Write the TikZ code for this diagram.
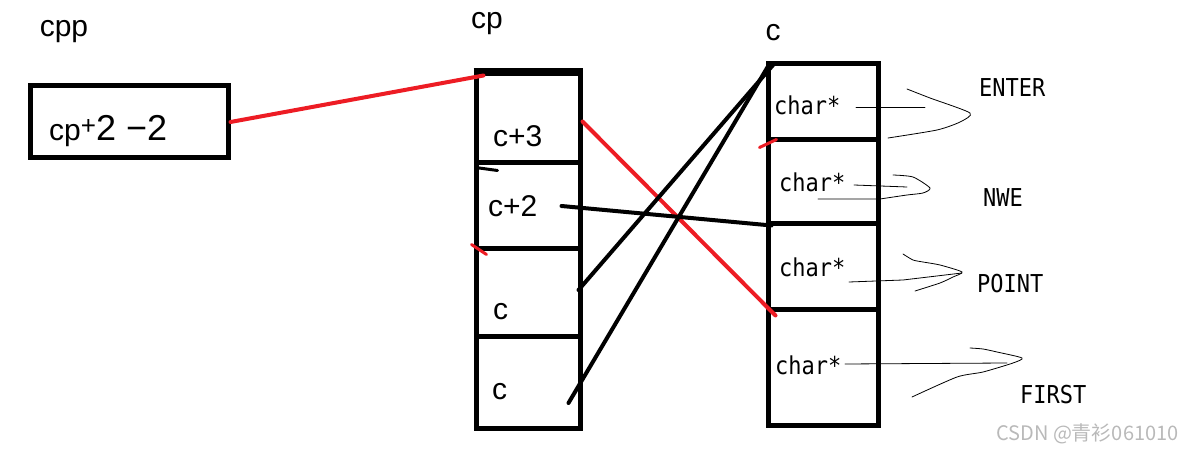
\documentclass[tikz,border=0pt]{standalone}
\usepackage{fontspec}
\setmainfont{Liberation Sans}
\newfontfamily\monofont{DejaVu Sans Mono}
\newfontfamily\cjkfont{Noto Sans CJK SC}
\usepackage{tikz}
\usepackage{xcolor}
\usepackage{graphicx}
\definecolor{penred}{RGB}{237,28,36}
\newcommand{\tall}[1]{\scalebox{1}[1.12]{#1}}

\begin{document}
\begin{tikzpicture}
  [x=1pt,y=-1pt,line cap=round,every node/.style={inner sep=0pt},
   cell/.style={draw,line width=5pt},
   word/.style={font=\fontsize{30}{30}\selectfont},
   mono/.style={font=\monofont\fontsize{22}{22}\selectfont},
   redline/.style={draw=penred,line width=4pt},
   blackline/.style={draw=black,line width=4pt},
   pen/.style={line width=.8pt}]

  \useasboundingbox (0,0) rectangle (1195,454);

  % pointer cpp
  \node[cell,minimum width=198pt,minimum height=72pt] (ptr) at (129,122) {};
  \node[word,anchor=base] (cpplbl) at (64,37) {cpp};
  \node[word,anchor=base west] (ptrtxt) at (49,141)
    {cp\raisebox{6pt}{\fontsize{26}{26}\selectfont+}{\fontsize{36}{36}\selectfont2 −2}};

  % array cp
  \foreach \n/\y/\h in {p3/118.5/89pt,p2/206/86pt,p1/293/88pt,p0/383/92pt}
    \node[cell,minimum width=104pt,minimum height=\h] (\n) at (528,\y) {};
  \draw[line width=7pt,line cap=butt] (p3.north west) -- (p3.north east);
  \node[word,anchor=base] (cplbl) at (487,29) {cp};
  \node[word,anchor=base west] (tp3) at (493,147) {c+3};
  \node[word,anchor=base west] (tp2) at (488,217) {c+2};
  \node[word,anchor=base west] (tp1) at (493,320) {c};
  \node[word,anchor=base west] (tp0) at (492,400) {c};

  % array c
  \foreach \n/\y/\h in {s1/102/76pt,s2/182/84pt,s3/267/86pt,s4/368/116pt}
    \node[cell,minimum width=110pt,minimum height=\h] (\n) at (823,\y) {};
  \node[word,anchor=base] (clbl) at (773,41) {c};
  \foreach \n/\x/\y in {ts1/774/115,ts2/779/192,ts3/779/277,ts4/775/375}
    \node[mono,anchor=base west] (\n) at (\x,\y) {\tall{char*}};

  % strings
  \node[mono,anchor=base west] (enter) at (979,97) {\tall{ENTER}};
  \node[mono,anchor=base west] (nwe) at (983,207) {\tall{NWE}};
  \node[mono,anchor=base west] (point) at (977,293) {\tall{POINT}};
  \node[mono,anchor=base west] (first) at (1020,403) {\tall{FIRST}};

  % scribbled braces
  \draw[pen] (856,107) -- (925,107);
  \draw[pen] plot[smooth,tension=.4] coordinates
    {(907,89) (930,98) (970,113) (960,122) (937,130) (888,138)};
  \draw[pen] (854,185) -- (907,187);
  \draw[pen] plot[smooth,tension=.4] coordinates
    {(893,175) (913,177) (930,188) (923,193) (907,195) (880,199)} -- (818,199);
  \draw[pen] (849,282) -- (903,280) -- (962,273);
  \draw[pen] plot[smooth,tension=.4] coordinates
    {(903,254) (913,260) (923,262) (940,265) (962,272) (953,277) (940,283) (915,291)};
  \draw[pen] (845,364) -- (1007,363);
  \draw[pen] plot[smooth,tension=.4] coordinates
    {(970,348) (983,349) (997,352) (1022,358) (1013,363) (983,372) (957,377) (912,397)};

  % pointers
  \draw[redline] (ptr.east) -- ([shift={(10,4)}]p3.north west);
  \draw[redline] ([yshift=-3pt]p3.east) -- ([shift={(10,8)}]s4.north west);
  \draw[blackline] ([xshift=-21pt]p2.east) -- ([shift={(6,4)}]s3.north west);
  \draw[blackline] ([shift={(-4,-3)}]p1.east) -- ([shift={(8,3)}]s1.north west);
  \draw[blackline] ([shift={(-14,20)}]p0.east) -- ([shift={(3,4)}]s1.north west);

  % stray marks
  \draw[redline,line width=3pt] ([shift={(-6,10)}]s2.north west) -- ([shift={(11,2)}]s2.north west);
  \draw[redline,line width=3pt] ([shift={(-2,-2)}]p1.north west) -- ([shift={(13,8)}]p1.north west);
  \draw[blackline,line width=3pt] ([shift={(2,7)}]p2.north west) -- ([shift={(24,10)}]p2.north west);

  \node[anchor=base west,font=\cjkfont\fontsize{20}{20}\selectfont,text=gray!55] (mark) at (996,441)
    {CSDN @青衫061010};
\end{tikzpicture}
\end{document}
